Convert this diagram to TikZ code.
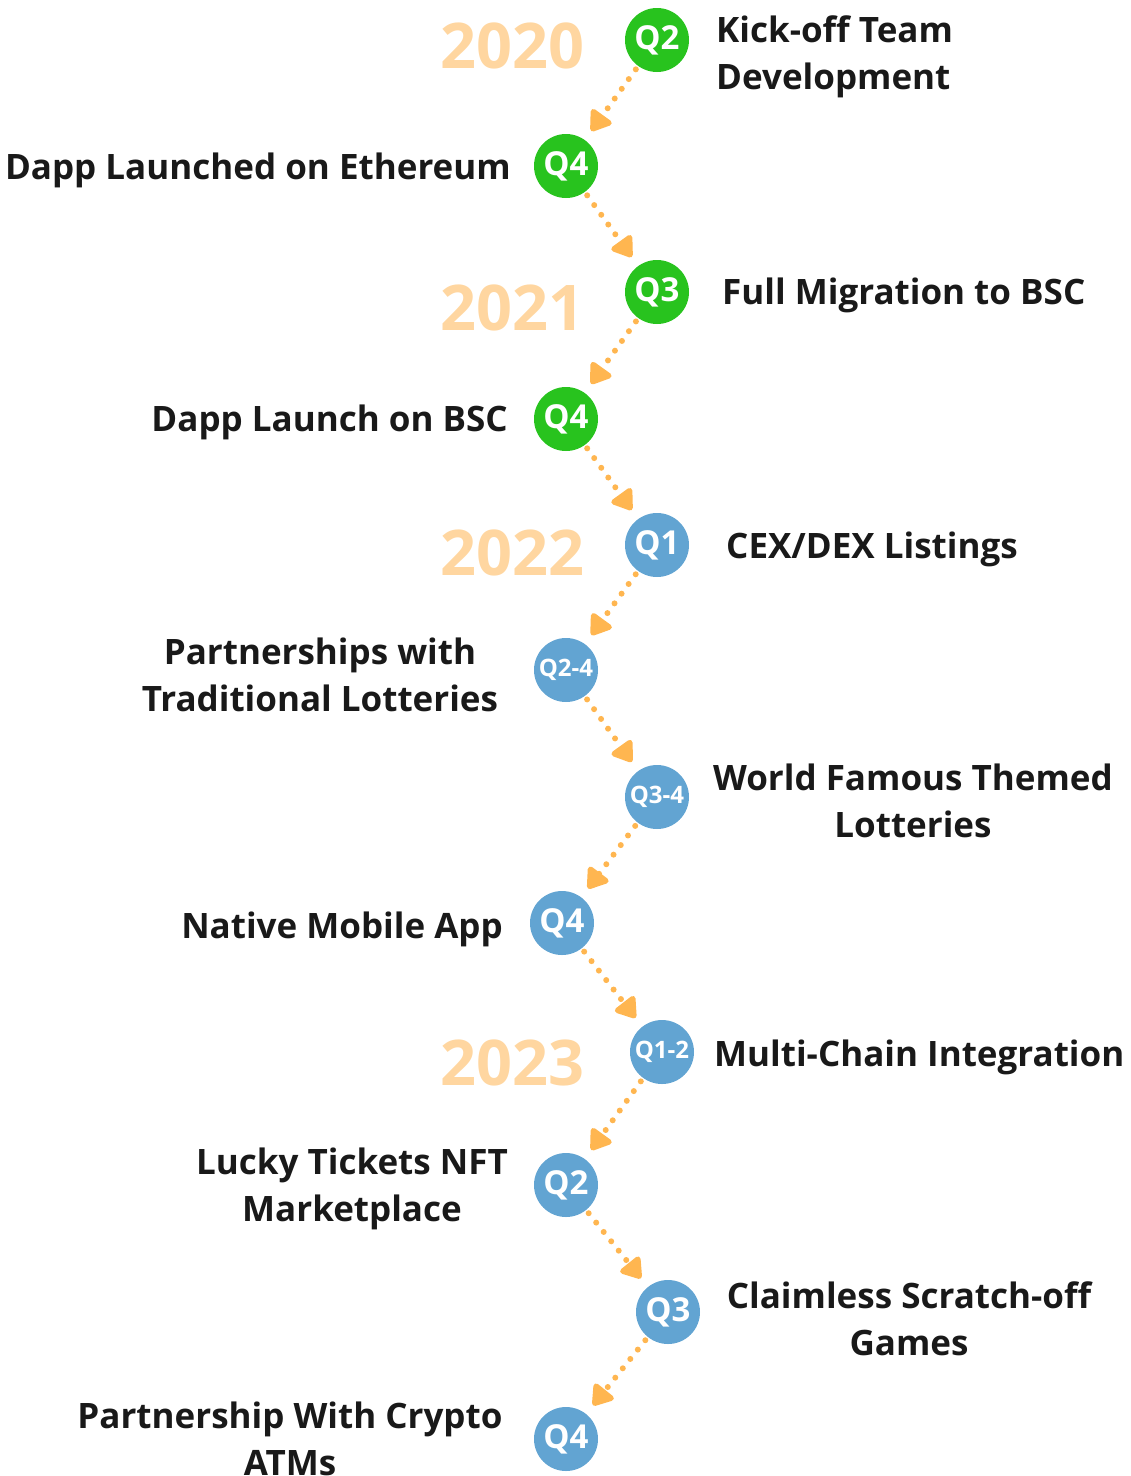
\documentclass[tikz,border=0pt]{standalone}
\usepackage{fontspec}
\setmainfont{Open Sans}
\usetikzlibrary{arrows.meta}
\definecolor{qgreen}{RGB}{40,195,30}
\definecolor{qblue}{RGB}{98,164,210}
\definecolor{arr}{RGB}{255,182,80}
\definecolor{yr}{RGB}{255,214,160}
\tikzset{
  q/.style={circle,minimum size=64pt,inner sep=0pt,text=white,font=\fontsize{33}{33}\selectfont\bfseries},
  qg/.style={q,fill=qgreen},
  qb/.style={q,fill=qblue},
  sm/.style={font=\fontsize{24}{24}\selectfont\bfseries},
  lbl/.style={font=\fontsize{35}{47}\selectfont\bfseries,inner sep=0pt,text=black!90},
  year/.style={font=\fontsize{63}{63}\selectfont\bfseries,text=yr,inner sep=0pt},
  link/.style={draw=arr,line width=6pt,line cap=round,dash pattern=on 0pt off 12pt,
    -{Triangle[length=22pt,width=28pt,round]},shorten <=4pt,shorten >=11pt}
}
\begin{document}
\begin{tikzpicture}[x=1pt,y=-1pt]
\useasboundingbox (0,0) rectangle (1131,1476);
% circles
\node[qg] (a) at (657,40) {Q2};
\node[qg] (b) at (566,166) {Q4};
\node[qg] (c) at (657,292) {Q3};
\node[qg] (d) at (566,419) {Q4};
\node[qb] (e) at (657,545) {Q1};
\node[qb,sm] (f) at (566,670) {Q2-4};
\node[qb,sm] (g) at (657,797) {Q3-4};
\node[qb] (h) at (562,923) {Q4};
\node[qb,sm] (i) at (662,1052) {Q1-2};
\node[qb] (j) at (566,1185) {Q2};
\node[qb] (k) at (668,1312) {Q3};
\node[qb] (l) at (566,1439) {Q4};
% arrows
\draw[link] (a) -- (b);
\draw[link] (b) -- (c);
\draw[link] (c) -- (d);
\draw[link] (d) -- (e);
\draw[link] (e) -- (f);
\draw[link] (f) -- (g);
\draw[link] (g) -- (h);
\draw[link] (h) -- (i);
\draw[link] (i) -- (j);
\draw[link] (j) -- (k);
\draw[link] (k) -- (l);
% years
\node[year] (y1) at (512,46) {2020};
\node[year] (y2) at (512,308) {2021};
\node[year] (y3) at (512,553) {2022};
\node[year] (y4) at (512,1063) {2023};
% labels
\node[lbl,anchor=west,align=left] (ta) at (716,57) {Kick-off Team\\Development};
\node[lbl,anchor=east] (tb) at (511,170) {Dapp Launched on Ethereum};
\node[lbl,anchor=west] (tc) at (722,295) {Full Migration to BSC};
\node[lbl,anchor=east] (td) at (508,422) {Dapp Launch on BSC};
\node[lbl,anchor=west] (te) at (726,549) {CEX/DEX Listings};
\node[lbl,align=center] (tf) at (320,675) {Partnerships with\\Traditional Lotteries};
\node[lbl,align=center] (tg) at (913,801) {World Famous Themed\\Lotteries};
\node[lbl,anchor=east] (th) at (503,929) {Native Mobile App};
\node[lbl,anchor=west] (ti) at (714,1057) {Multi-Chain Integration};
\node[lbl,align=center] (tj) at (352,1189) {Lucky Tickets NFT\\Marketplace};
\node[lbl,align=center] (tk) at (909,1319) {Claimless Scratch-off\\Games};
\node[lbl,align=center] (tl) at (290,1439) {Partnership With Crypto\\ATMs};
\end{tikzpicture}
\end{document}
